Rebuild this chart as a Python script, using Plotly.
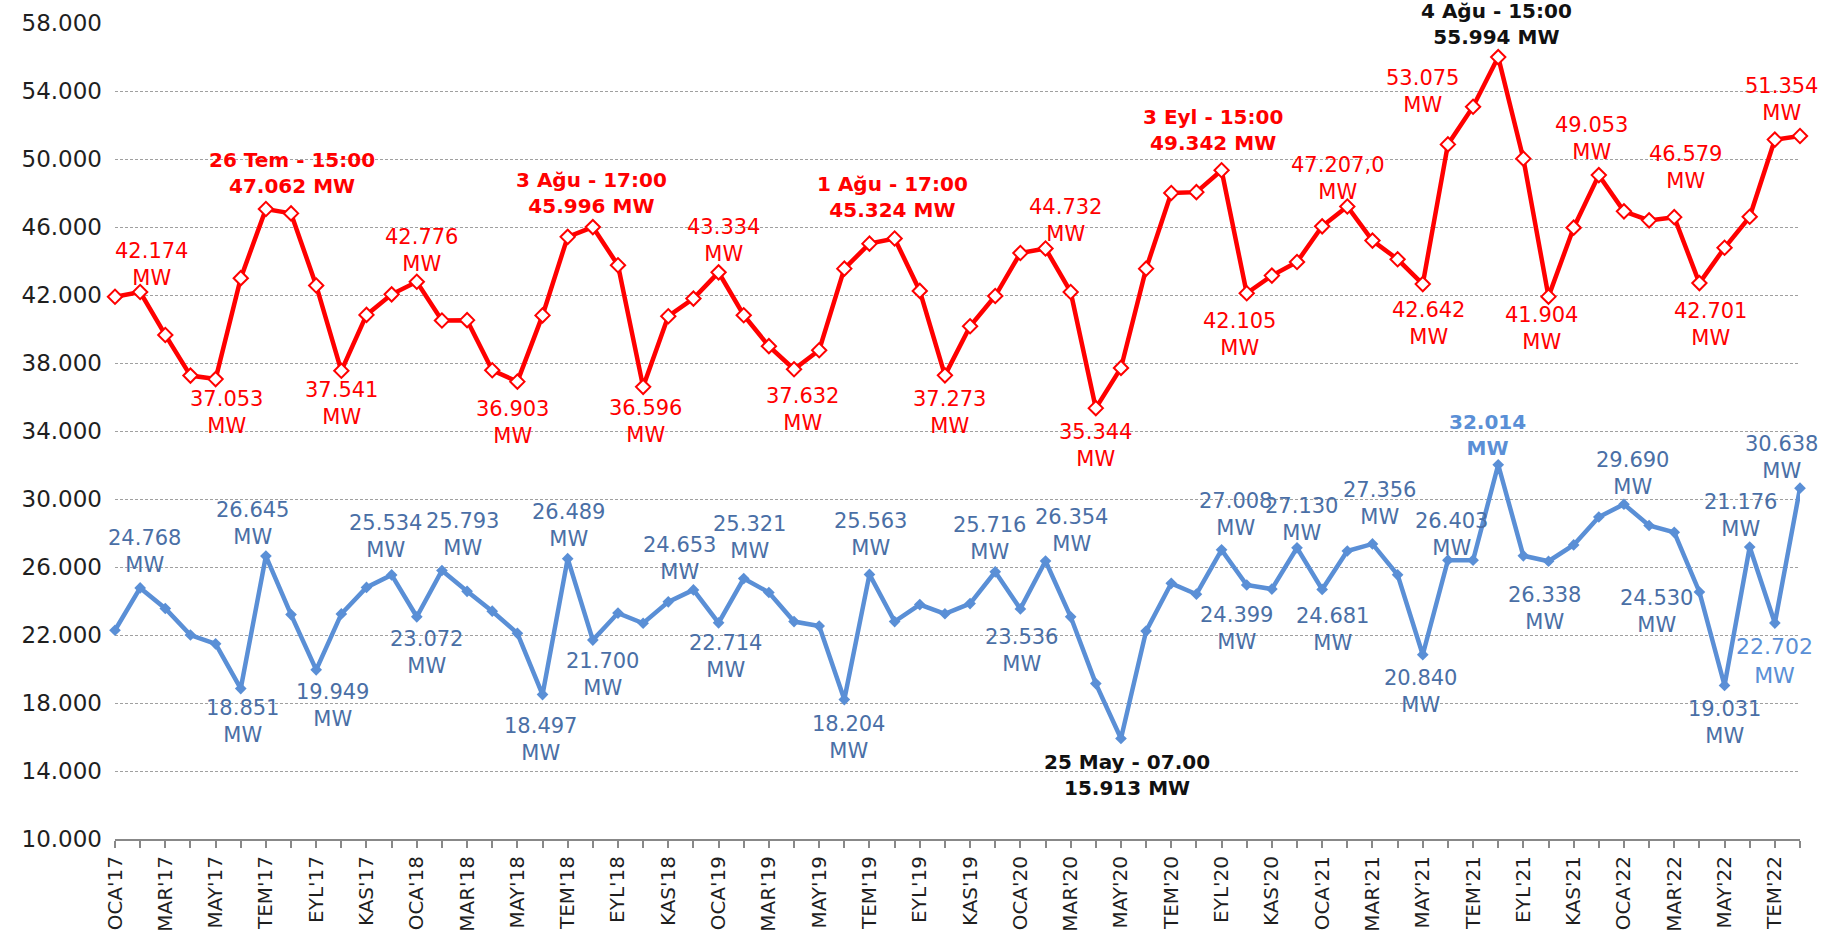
import plotly.graph_objects as go

# ---------------- data ----------------
month_names = ["OCA", "ŞUB", "MAR", "NİS", "MAY", "HAZ", "TEM", "AĞU", "EYL", "EKİ", "KAS", "ARA"]
years = ["17", "18", "19", "20", "21", "22"]
months = [f"{m}'{y}" for y in years for m in month_names][:68]   # OCA'17 .. AĞU'22

peak = [41900, 42174, 39650, 37260, 37053, 42990, 47062, 46800, 42560, 37541, 40830, 42040,
        42776, 40500, 40520, 37570, 36903, 40800, 45420, 45996, 43750, 36596, 40750, 41790,
        43334, 40810, 38990, 37632, 38750, 43550, 45020, 45324, 42240, 37273, 40160, 41940,
        44470, 44732, 42180, 35344, 37710, 43550, 48000, 48050, 49342, 42105, 43140, 43940,
        46040, 47207, 45200, 44100, 42642, 50860, 53075, 55994, 50020, 41904, 45960, 49053,
        46920, 46390, 46579, 42701, 44780, 46600, 51140, 51354]

minimum = [22280, 24768, 23560, 22000, 21480, 18851, 26645, 23200, 19949, 23240, 24800, 25534,
           23072, 25793, 24570, 23400, 22100, 18497, 26489, 21700, 23290, 22690, 23950, 24653,
           22714, 25321, 24500, 22790, 22530, 18204, 25563, 22790, 23790, 23250, 23850, 25716,
           23536, 26354, 23070, 19140, 15913, 22230, 25040, 24399, 27008, 24940, 24700, 27130,
           24681, 26940, 27356, 25540, 20840, 26403, 26400, 32014, 26660, 26338, 27300, 28940,
           29690, 28440, 28040, 24530, 19031, 27176, 22702, 30638]

y_tickvals = list(range(10000, 58001, 4000))
y_ticktext = ["10.000", "14.000", "18.000", "22.000", "26.000", "30.000", "34.000",
              "38.000", "42.000", "46.000", "50.000", "54.000", "58.000"]

# labelled points: index -> label text
peak_label_idx = [1, 4, 6, 9, 12, 16, 19, 21, 24, 27, 31, 33, 37, 39, 44, 45, 49, 52, 54, 55,
                  57, 59, 62, 63, 67]
peak_label_text = ["42.174<br>MW", "37.053<br>MW", "26 Tem - 15:00<br>47.062 MW", "37.541<br>MW",
                   "42.776<br>MW", "36.903<br>MW", "3 Ağu - 17:00<br>45.996 MW", "36.596<br>MW",
                   "43.334<br>MW", "37.632<br>MW", "1 Ağu - 17:00<br>45.324 MW", "37.273<br>MW",
                   "44.732<br>MW", "35.344<br>MW", "3 Eyl - 15:00<br>49.342 MW", "42.105<br>MW",
                   "47.207,0<br>MW", "42.642<br>MW", "53.075<br>MW", "4 Ağu - 15:00<br>55.994 MW",
                   "41.904<br>MW", "49.053<br>MW", "46.579<br>MW", "42.701<br>MW", "51.354<br>MW"]

min_label_idx = [1, 5, 6, 8, 11, 12, 13, 17, 18, 19, 23, 24, 25, 29, 30, 35, 36, 37, 40, 43, 44,
                 47, 48, 50, 52, 53, 55, 57, 60, 63, 64, 65, 66, 67]
min_label_text = ["24.768<br>MW", "18.851<br>MW", "26.645<br>MW", "19.949<br>MW", "25.534<br>MW",
                  "23.072<br>MW", "25.793<br>MW", "18.497<br>MW", "26.489<br>MW", "21.700<br>MW",
                  "24.653<br>MW", "22.714<br>MW", "25.321<br>MW", "18.204<br>MW", "25.563<br>MW",
                  "25.716<br>MW", "23.536<br>MW", "26.354<br>MW", "25 May - 07.00<br>15.913 MW",
                  "24.399<br>MW", "27.008<br>MW", "27.130<br>MW", "24.681<br>MW", "27.356<br>MW",
                  "20.840<br>MW", "26.403<br>MW", "32.014<br>MW", "26.338<br>MW", "29.690<br>MW",
                  "24.530<br>MW", "19.031<br>MW", "21.176<br>MW", "22.702<br>MW", "30.638<br>MW"]

# ---------------- styling / placement ----------------
RED = "#FF0000"
BLUE = "#5A8FD6"
BLUE_TXT = "#4A6FA6"
FONT = "DejaVu Sans"

# label offsets (screen px, dy positive = down) and style per label
peak_offsets = {1: (11, -28), 4: (11, 33), 6: (26, -36), 9: (0, 33), 12: (5, -31), 16: (-5, 41),
                19: (-1, -34), 21: (2, 35), 24: (5, -32), 27: (8, 40), 31: (-2, -41), 33: (5, 37),
                37: (20, -28), 39: (0, 37), 44: (-9, -40), 45: (-7, 41), 49: (-9, -28), 52: (6, 39),
                54: (-51, -15), 55: (-2, -33), 57: (-7, 32), 59: (-7, -37), 62: (11, -50),
                63: (11, 41), 67: (-19, -36)}
peak_bold = {6: RED, 19: RED, 31: RED, 44: RED, 55: "#111111"}

min_offsets = {1: (4, -36), 5: (2, 33), 6: (-13, -33), 8: (16, 36), 11: (-6, -38), 12: (10, 36),
               13: (21, -36), 17: (-2, 45), 18: (1, -33), 19: (10, 34), 23: (-14, -31),
               24: (7, 34), 25: (6, -41), 29: (4, 38), 30: (1, -40), 35: (-6, -33), 36: (1, 42),
               37: (26, -30), 40: (6, 37), 43: (40, 34), 44: (14, -35), 47: (4, -28),
               48: (10, 40), 50: (7, -40), 52: (-2, 37), 53: (4, -26), 55: (-11, -30),
               57: (-4, 47), 60: (9, -31), 63: (-43, 20), 64: (0, 37), 65: (-9, -32),
               66: (0, 38), 67: (-19, -31)}
min_bold = {40: "#111111", 55: BLUE}
min_special_color = {66: BLUE}

x = list(range(len(months)))

fig = go.Figure()
fig.add_trace(go.Scatter(
    x=x, y=minimum, mode="lines+markers", cliponaxis=False,
    line=dict(color=BLUE, width=4.5),
    marker=dict(symbol="diamond", size=9, color=BLUE),
    hoverinfo="skip"))
fig.add_trace(go.Scatter(
    x=x, y=peak, mode="lines+markers", cliponaxis=False,
    line=dict(color=RED, width=4.5),
    marker=dict(symbol="diamond", size=11, color="white", line=dict(color=RED, width=2)),
    hoverinfo="skip"))

annotations = []
for i, t in zip(peak_label_idx, peak_label_text):
    dx, dy = peak_offsets[i]
    if i in peak_bold:
        txt, col, sz = f"<b>{t}</b>", peak_bold[i], 20
    else:
        txt, col, sz = t, RED, 21
    annotations.append(dict(x=i, y=peak[i], text=txt, showarrow=False, xanchor="center",
                            yanchor="middle", xshift=dx, yshift=-dy,
                            font=dict(family=FONT, size=sz, color=col)))
for i, t in zip(min_label_idx, min_label_text):
    dx, dy = min_offsets[i]
    if i in min_bold:
        txt, col, sz = f"<b>{t}</b>", min_bold[i], 20
    else:
        txt, col, sz = t, min_special_color.get(i, BLUE_TXT), (22 if i in min_special_color else 21)
    annotations.append(dict(x=i, y=minimum[i], text=txt, showarrow=False, xanchor="center",
                            yanchor="middle", xshift=dx, yshift=-dy,
                            font=dict(family=FONT, size=sz, color=col)))

tick_text = [m if k % 2 == 0 else "" for k, m in enumerate(months)]

fig.update_layout(
    width=1829, height=934,
    margin=dict(l=115, r=29, t=23, b=95),
    paper_bgcolor="white", plot_bgcolor="white",
    showlegend=False,
    font=dict(family=FONT, color="#1f1f1f"),
    annotations=annotations,
    xaxis=dict(range=[0, len(months) - 1], tickmode="array", tickvals=x, ticktext=tick_text,
               tickangle=-90, ticks="outside", ticklen=7, tickwidth=1.5, tickcolor="#888888",
               showline=True, linecolor="#888888", linewidth=2, showgrid=False, zeroline=False,
               automargin=False,
               tickfont=dict(family=FONT, size=20, color="#1f1f1f")),
    yaxis=dict(range=[10000, 58000], tickmode="array", tickvals=y_tickvals, ticktext=y_ticktext,
               showgrid=True, gridcolor="#a0a0a0", gridwidth=1, griddash="3px,2px",
               showline=False, zeroline=False, ticks="", ticklabelstandoff=12,
               automargin=False,
               tickfont=dict(family=FONT, size=23, color="#1f1f1f")),
)

# remove the default 8px page margin so the figure fills the window exactly
fig.write_html("out.html", config={"displayModeBar": False},
               post_script="document.body.style.margin='0px';document.body.style.overflow='hidden';")
